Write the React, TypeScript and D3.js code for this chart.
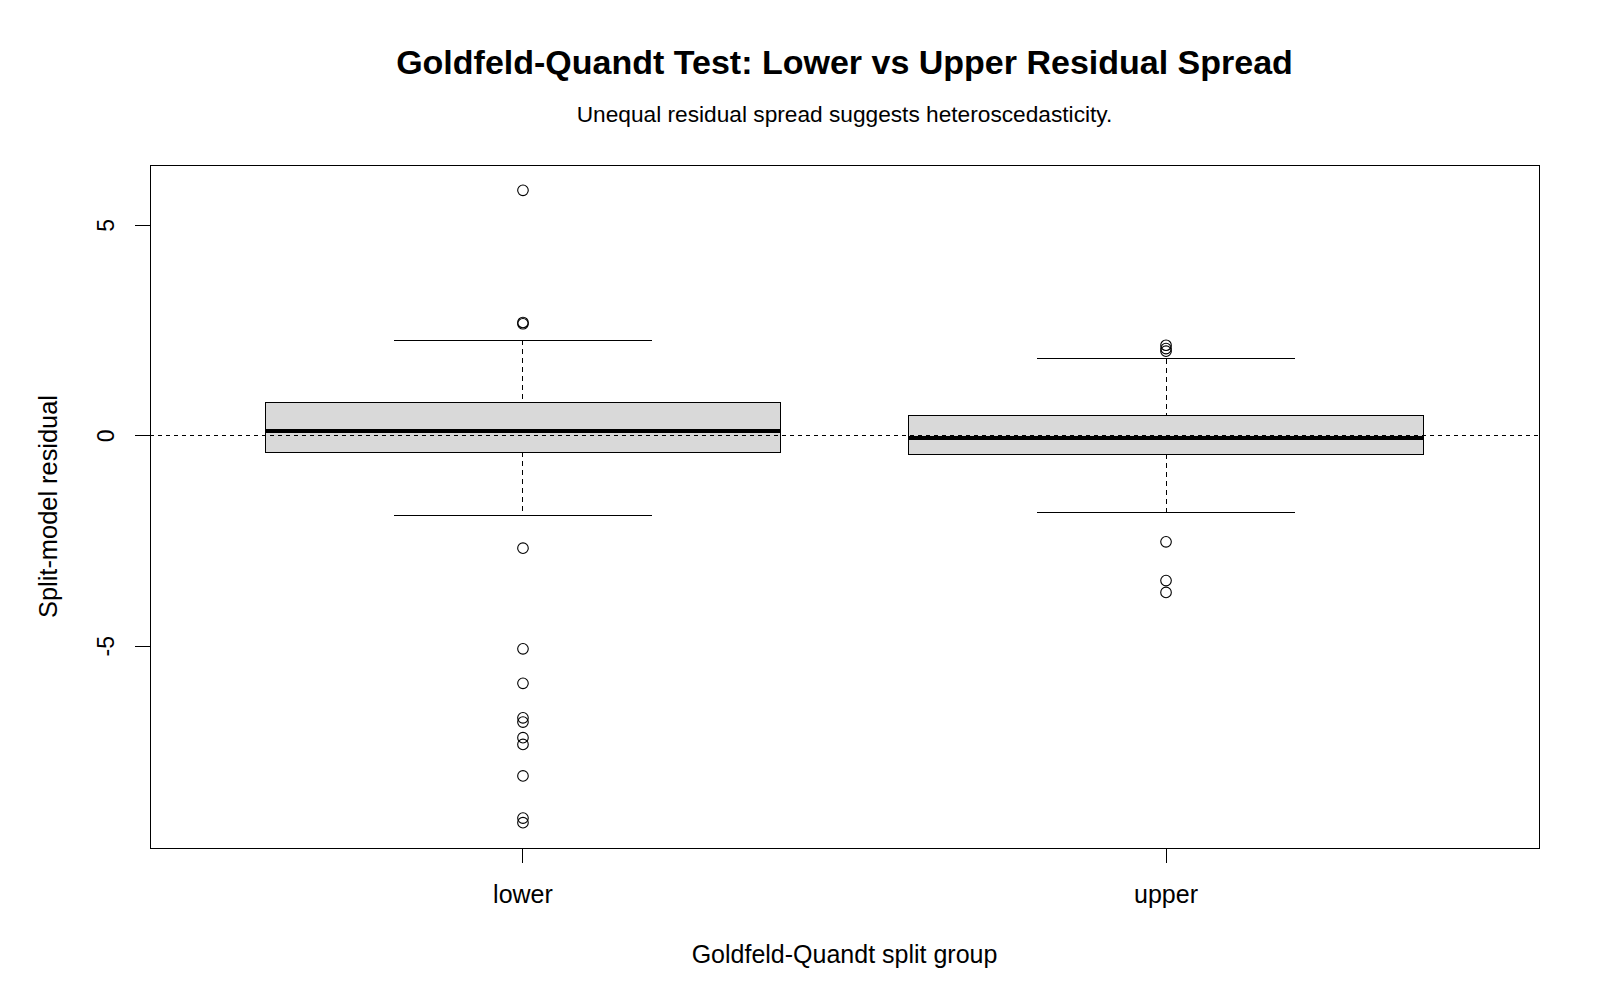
import React from 'react';
import * as d3 from 'd3';

// split groups
const groups = ['lower', 'upper'];
// five-number summaries: lower whisker, Q1, median, Q3, upper whisker
const whiskerLow = [-1.9, -1.82];
const q1 = [-0.39, -0.44];
const median = [0.12, -0.06];
const q3 = [0.79, 0.48];
const whiskerHigh = [2.27, 1.83];
// points beyond the whiskers
const outliersLower = [5.83, 2.69, 2.66, -2.67, -5.06, -5.88, -6.7, -6.8, -7.17, -7.33, -8.08, -9.08, -9.19];
const outliersUpper = [2.15, 2.07, 2.01, -2.52, -3.44, -3.72];
const outliers = [outliersLower, outliersUpper];
const yTicks = [-5, 0, 5];

const W = 1600;
const H = 1000;
const plot = { left: 150, right: 1539, top: 165, bottom: 848 };
const font = '"Liberation Sans", Arial, sans-serif';

const App = () => {
  const allVals = [...whiskerLow, ...whiskerHigh, ...outliersLower, ...outliersUpper];
  const lo = d3.min(allVals) as number;
  const hi = d3.max(allVals) as number;
  const pad = (hi - lo) * 0.04;

  const x = d3.scaleLinear().domain([0.42, 2.58]).range([plot.left, plot.right]);
  const y = d3.scaleLinear().domain([lo - pad, hi + pad]).range([plot.bottom, plot.top]);

  const halfBox = x(1.4) - x(1); // boxwex 0.8
  const halfStaple = halfBox / 2;
  const cx0 = (plot.left + plot.right) / 2;

  return (
    <svg width={W} height={H} style={{ position: 'absolute', left: 0, top: 0, background: '#fff' }} fontFamily={font}>
      <rect x={0} y={0} width={W} height={H} fill="#fff" />

      <g shapeRendering="crispEdges">
        {groups.map((g, i) => {
          const cx = x(i + 1);
          return (
            <g key={g}>
              {/* whiskers */}
              <line x1={cx} x2={cx} y1={y(whiskerHigh[i])} y2={y(q3[i])} stroke="#000" strokeWidth={1} strokeDasharray="5,4" />
              <line x1={cx} x2={cx} y1={y(q1[i])} y2={y(whiskerLow[i])} stroke="#000" strokeWidth={1} strokeDasharray="5,4" />
              <line x1={cx - halfStaple} x2={cx + halfStaple} y1={y(whiskerHigh[i])} y2={y(whiskerHigh[i])} stroke="#000" strokeWidth={1} />
              <line x1={cx - halfStaple} x2={cx + halfStaple} y1={y(whiskerLow[i])} y2={y(whiskerLow[i])} stroke="#000" strokeWidth={1} />
              {/* box */}
              <rect x={cx - halfBox} y={y(q3[i])} width={2 * halfBox} height={y(q1[i]) - y(q3[i])} fill="#d9d9d9" stroke="#000" strokeWidth={1} />
              <line x1={cx - halfBox} x2={cx + halfBox} y1={y(median[i])} y2={y(median[i])} stroke="#000" strokeWidth={4} />
            </g>
          );
        })}

        {/* reference line at zero */}
        <line x1={plot.left} x2={plot.right} y1={y(0)} y2={y(0)} stroke="#000" strokeWidth={1} strokeDasharray="4,4" />

        {/* frame */}
        <rect x={plot.left} y={plot.top} width={plot.right - plot.left} height={plot.bottom - plot.top} fill="none" stroke="#000" strokeWidth={1} />

        {yTicks.map((t) => (
          <line key={t} x1={plot.left - 15} x2={plot.left} y1={y(t)} y2={y(t)} stroke="#000" />
        ))}
        {groups.map((g, i) => (
          <line key={g} x1={x(i + 1)} x2={x(i + 1)} y1={plot.bottom} y2={plot.bottom + 15} stroke="#000" />
        ))}
      </g>

      {/* outliers */}
      {groups.map((g, i) =>
        outliers[i].map((v, j) => (
          <circle key={g + j} cx={x(i + 1)} cy={y(v)} r={5.3} fill="none" stroke="#000" strokeWidth={1.1} />
        ))
      )}

      {/* y axis labels */}
      {yTicks.map((t) => (
        <text key={t} transform={`translate(114,${y(t)}) rotate(-90)`} textAnchor="middle" fontSize={23}>{t}</text>
      ))}

      {/* x axis labels */}
      {groups.map((g, i) => (
        <text key={g} x={x(i + 1)} y={903} textAnchor="middle" fontSize={25}>{g}</text>
      ))}

      <text x={cx0} y={74} textAnchor="middle" fontSize={34} fontWeight="bold">
        Goldfeld-Quandt Test: Lower vs Upper Residual Spread
      </text>
      <text x={cx0} y={122} textAnchor="middle" fontSize={22.7}>
        Unequal residual spread suggests heteroscedasticity.
      </text>
      <text x={cx0} y={963} textAnchor="middle" fontSize={25}>
        Goldfeld-Quandt split group
      </text>
      <text transform={`translate(57,${(plot.top + plot.bottom) / 2}) rotate(-90)`} textAnchor="middle" fontSize={25.4}>
        Split-model residual
      </text>
    </svg>
  );
};

export default App;
